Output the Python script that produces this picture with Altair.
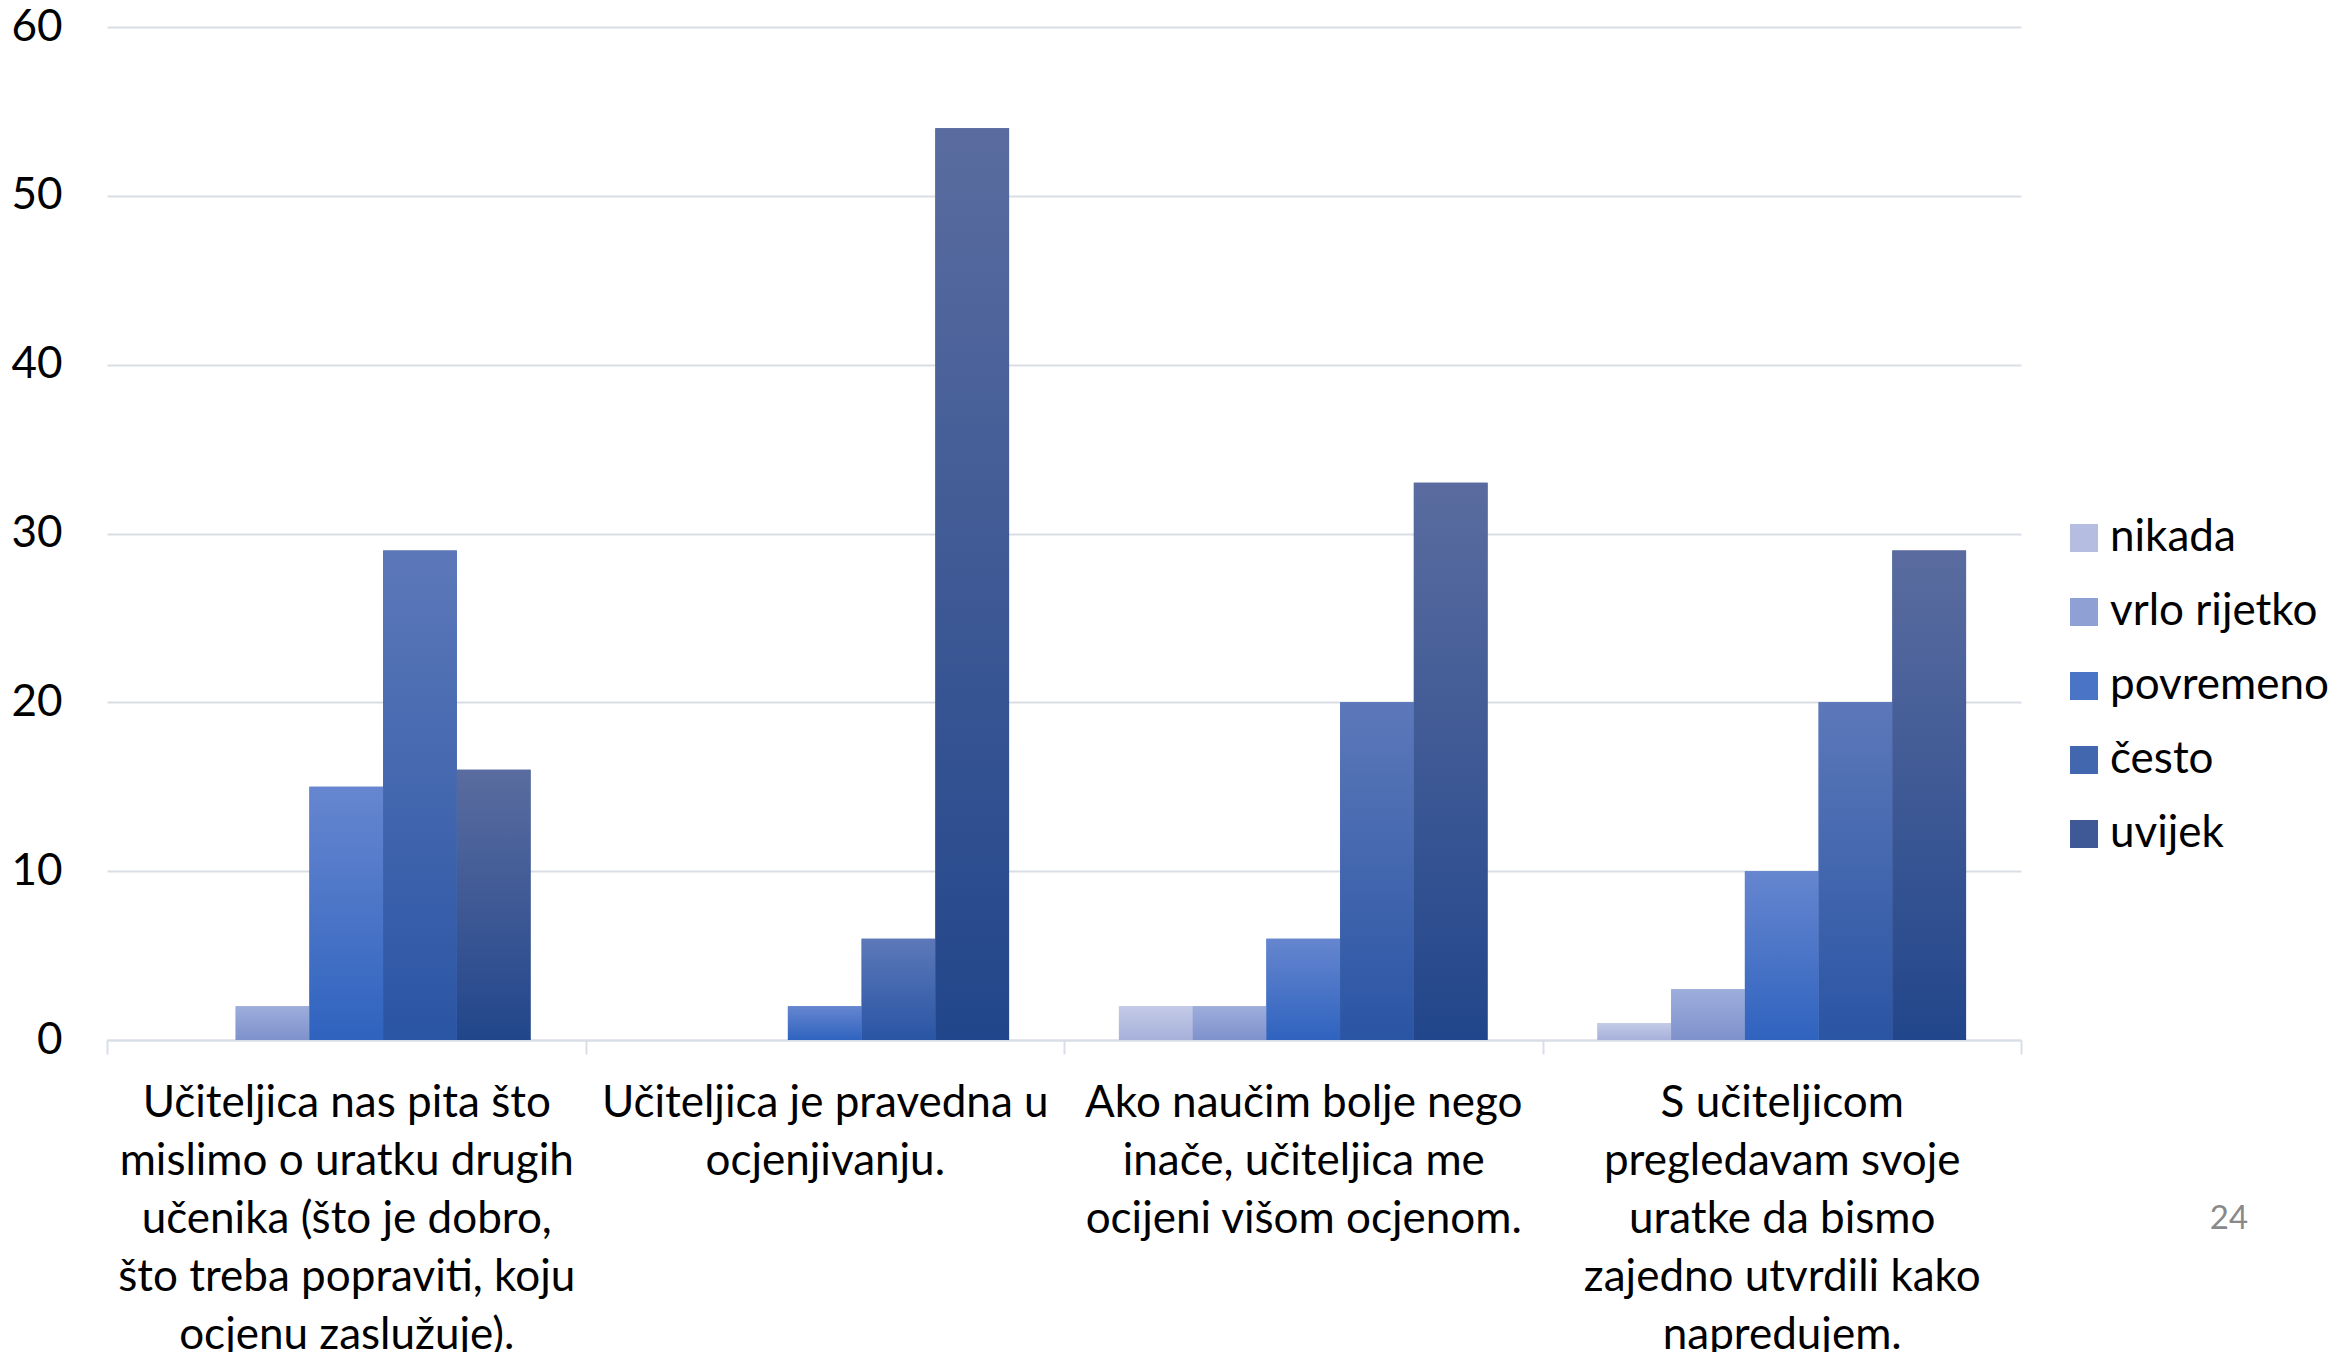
import altair as alt
import pandas as pd

# ---------------- data ----------------
categories = [
    "Učiteljica nas pita što|mislimo o uratku drugih|učenika (što je dobro,|što treba popraviti, koju|ocjenu zaslužuje).",
    "Učiteljica je pravedna u|ocjenjivanju.",
    "Ako naučim bolje nego|inače, učiteljica me|ocijeni višom ocjenom.",
    "S učiteljicom|pregledavam svoje|uratke da bismo|zajedno utvrdili kako|napredujem.",
]
series = ["nikada", "vrlo rijetko", "povremeno", "često", "uvijek"]
nikada = [0, 0, 2, 1]
vrlo_rijetko = [2, 0, 2, 3]
povremeno = [15, 2, 6, 10]
cesto = [29, 6, 20, 20]
uvijek = [16, 54, 33, 29]
y_ticks = [0, 10, 20, 30, 40, 50, 60]
page_number = ["24"]

# ---------------- styles ----------------
top_colors = ["#C4CBE7", "#9DAEDC", "#6686CF", "#5C78B9", "#5A6C9F"]
bottom_colors = ["#A6B0DA", "#7E91CB", "#2F63BF", "#2A55A4", "#22468B"]
mid_colors = ["#B5BEE0", "#8EA0D4", "#4A75C7", "#4367AF", "#3E5995"]
GRID = "#D9DEE6"
FONT = "Lato"

values = [nikada, vrlo_rijetko, povremeno, cesto, uvijek]
rows = []
for s, vals in zip(series, values):
    for c, v in zip(categories, vals):
        rows.append({"kategorija": c, "serija": s, "vrijednost": v})
df = pd.DataFrame(rows)

x_enc = alt.X(
    "kategorija:N",
    sort=categories,
    scale=alt.Scale(domain=categories, paddingInner=0, paddingOuter=0),
    axis=alt.Axis(
        title=None,
        labelExpr="split(datum.label, '|')",
        labelAngle=0,
        labelFontSize=44,
        labelFont=FONT,
        labelColor="#000000",
        labelLineHeight=58,
        labelLimit=1000,
        labelPadding=27,
        labelOverlap=False,
        labelFlush=False,
        labelAlign="center",
        labelBaseline="top",
        tickBand="extent",
        ticks=True,
        tickSize=14,
        tickColor=GRID,
        tickWidth=2,
        domainColor=GRID,
        domainWidth=2,
        grid=False,
    ),
)
xoff_enc = alt.XOffset(
    "serija:N",
    sort=series,
    scale=alt.Scale(domain=series, paddingInner=0, paddingOuter=0.745),
)
y_enc = alt.Y(
    "vrijednost:Q",
    scale=alt.Scale(domain=[0, 60], nice=False),
    axis=alt.Axis(
        title=None,
        values=y_ticks,
        labelFontSize=44,
        labelFont=FONT,
        labelColor="#000000",
        labelPadding=45,
        ticks=False,
        domain=False,
        gridColor=GRID,
        gridWidth=2,
    ),
)

base = alt.Chart(df).mark_bar().encode(
    x=x_enc,
    xOffset=xoff_enc,
    y=y_enc,
    color=alt.Color(
        "serija:N",
        sort=series,
        scale=alt.Scale(domain=series, range=mid_colors),
        legend=alt.Legend(
            title=None,
            orient="none",
            legendX=1955,
            legendY=489,
            direction="vertical",
            symbolType="square",
            symbolSize=784,
            symbolStrokeWidth=0,
            symbolOpacity=1,
            labelFontSize=44,
            labelFont=FONT,
            labelColor="#000000",
            labelOffset=4,
            labelLimit=1000,
            rowPadding=30,
            padding=0,
        ),
    ),
)

layers = [base]
for s, tc, bc in zip(series, top_colors, bottom_colors):
    grad = alt.LinearGradient(
        gradient="linear",
        stops=[alt.GradientStop(color=tc, offset=0), alt.GradientStop(color=bc, offset=1)],
        x1=0, x2=0, y1=0, y2=1,
    )
    layers.append(
        alt.Chart(df)
        .transform_filter(alt.datum.serija == s)
        .mark_bar(fill=grad)
        .encode(x=x_enc, xOffset=xoff_enc, y=y_enc)
    )

page = alt.Chart(pd.DataFrame({"t": page_number})).mark_text(
    font=FONT, fontSize=33, color="#898989", align="center", baseline="middle"
).encode(text="t:N", x=alt.value(2122), y=alt.value(1192))
layers.append(page)

chart = (
    alt.layer(*layers)
    .properties(
        width=1914,
        height=1013,
        autosize=alt.AutoSizeParams(type="none"),
        padding={"left": 99, "top": 19, "right": 310, "bottom": 312},
        background="#FFFFFF",
    )
    .configure_view(stroke=None)
)

chart.save("out.html", embed_options={"renderer": "svg", "actions": False})
